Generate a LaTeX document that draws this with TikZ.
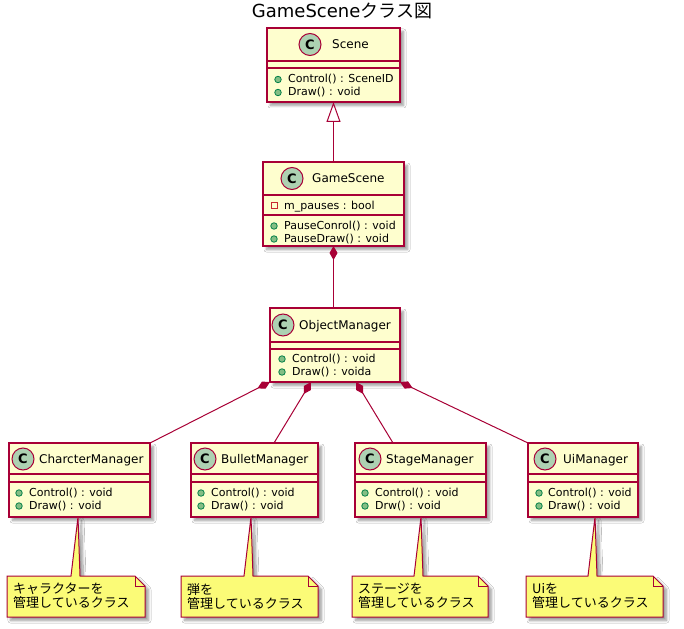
\documentclass[tikz,border=0pt]{standalone}
\usepackage{fontspec}
\setmainfont{DejaVu Sans}
\newfontfamily\cjk{Noto Sans CJK JP}
\usetikzlibrary{arrows.meta,shadows.blur,calc}

\definecolor{umlred}{HTML}{A80036}
\definecolor{classfill}{HTML}{FEFECE}
\definecolor{notefill}{HTML}{FBFB77}
\definecolor{circlefill}{HTML}{ADD1B2}
\definecolor{pubfill}{HTML}{84BE84}
\definecolor{pubborder}{HTML}{038048}
\definecolor{privborder}{HTML}{C82930}

% horizontal compartment rule inside a class box, #2 below its top edge
\newcommand\umlrule[2]{\draw[sepline] ($(#1.north west)+(0,#2)$) -- ($(#1.north east)+(0,#2)$);}

\tikzset{
  umlshadow/.style={blur shadow={shadow xshift=3.5pt, shadow yshift=-3.5pt, shadow blur radius=2.5pt, shadow blur steps=10, shadow opacity=40}},
  classbox/.style={rectangle, draw=umlred, line width=1.4pt, fill=classfill, inner sep=0pt, outer sep=0pt, anchor=north west, umlshadow},
  sepline/.style={draw=umlred, line width=1.4pt},
  stereo/.style={circle, draw=umlred, line width=1pt, fill=circlefill, minimum size=22pt, inner sep=0pt, font=\fontsize{13}{13}\selectfont\bfseries},
  classname/.style={anchor=base west, inner sep=0pt, font=\fontsize{12}{14}\selectfont},
  member/.style={anchor=base west, inner sep=0pt, font=\fontsize{11}{13}\selectfont},
  pubdot/.style={circle, draw=pubborder, fill=pubfill, line width=0.8pt, minimum size=6.5pt, inner sep=0pt},
  privbox/.style={rectangle, draw=privborder, line width=1pt, minimum size=6pt, inner sep=0pt},
  notebox/.style={draw=umlred, line width=1pt, fill=notefill, line join=miter, umlshadow},
  notefold/.style={draw=umlred, line width=1pt},
  notetext/.style={anchor=north west, inner sep=0pt, align=left, font=\cjk\fontsize{13}{14}\selectfont},
  link/.style={draw=umlred, line width=1pt},
  composition/.style={link, {Diamond[length=14pt,width=8pt,fill=umlred]}-},
  extends/.style={link, {Triangle[open,length=20pt,width=14pt]}-},
}

\begin{document}
\begin{tikzpicture}[x=1pt,y=-1pt]
\useasboundingbox[fill=white] (0,0) rectangle (684,628);

% title
\node[anchor=base, inner sep=0pt, font=\fontsize{18}{20}\selectfont] (title) at (342,17.5) {GameScene{\cjk クラス図}};

% ---------- class boxes ----------
\node[classbox, minimum width=133pt, minimum height=74pt] (sc)  at (267,28) {};
\node[classbox, minimum width=141pt, minimum height=84pt] (gs)  at (263,162) {};
\node[classbox, minimum width=130pt, minimum height=74pt] (om)  at (270,308) {};
\node[classbox, minimum width=141pt, minimum height=74pt] (cm)  at (9,443) {};
\node[classbox, minimum width=127pt, minimum height=74pt] (bm)  at (191,443) {};
\node[classbox, minimum width=131pt, minimum height=74pt] (stm) at (355,443) {};
\node[classbox, minimum width=110pt, minimum height=74pt] (um)  at (528,443) {};

% compartments
\umlrule{sc}{33}  \umlrule{sc}{40}
\umlrule{gs}{33}  \umlrule{gs}{53}
\umlrule{om}{34}  \umlrule{om}{41}
\umlrule{cm}{31}  \umlrule{cm}{39}
\umlrule{bm}{31}  \umlrule{bm}{39}
\umlrule{stm}{31} \umlrule{stm}{39}
\umlrule{um}{31}  \umlrule{um}{39}

% Scene
\node[stereo] (sc-c) at (310,44.5) {C};
\node[classname] (sc-n) at (332,49) {Scene};
\node[pubdot] (sc-d1) at (278,79.5) {};
\node[member] (sc-m1) at (288,83) {Control() : SceneID};
\node[pubdot] (sc-d2) at (278,92.5) {};
\node[member] (sc-m2) at (288,96) {Draw() : void};

% GameScene
\node[stereo] (gs-c) at (292,178.5) {C};
\node[classname] (gs-n) at (312,183) {GameScene};
\node[privbox] (gs-p1) at (274,205.5) {};
\node[member] (gs-a1) at (284,209) {m\_pauses : bool};
\node[pubdot] (gs-d1) at (274,226) {};
\node[member] (gs-m1) at (284,229.5) {PauseConrol() : void};
\node[pubdot] (gs-d2) at (274,239) {};
\node[member] (gs-m2) at (284,242.5) {PauseDraw() : void};

% ObjectManager
\node[stereo] (om-c) at (283,325) {C};
\node[classname] (om-n) at (299,329.5) {ObjectManager};
\node[pubdot] (om-d1) at (282,359) {};
\node[member] (om-m1) at (292,362.5) {Control() : void};
\node[pubdot] (om-d2) at (282,372) {};
\node[member] (om-m2) at (292,375.5) {Draw() : voida};

% CharcterManager
\node[stereo] (cm-c) at (23,459) {C};
\node[classname] (cm-n) at (39,463.5) {CharcterManager};
\node[pubdot] (cm-d1) at (19,493) {};
\node[member] (cm-m1) at (29,496.5) {Control() : void};
\node[pubdot] (cm-d2) at (19,506) {};
\node[member] (cm-m2) at (29,509.5) {Draw() : void};

% BulletManager
\node[stereo] (bm-c) at (205,459) {C};
\node[classname] (bm-n) at (221,463.5) {BulletManager};
\node[pubdot] (bm-d1) at (201,493) {};
\node[member] (bm-m1) at (211,496.5) {Control() : void};
\node[pubdot] (bm-d2) at (201,506) {};
\node[member] (bm-m2) at (211,509.5) {Draw() : void};

% StageManager
\node[stereo] (stm-c) at (370,459) {C};
\node[classname] (stm-n) at (386,463.5) {StageManager};
\node[pubdot] (stm-d1) at (365,493) {};
\node[member] (stm-m1) at (375,496.5) {Control() : void};
\node[pubdot] (stm-d2) at (365,506) {};
\node[member] (stm-m2) at (375,509.5) {Drw() : void};

% UiManager
\node[stereo] (um-c) at (545,459) {C};
\node[classname] (um-n) at (563,463.5) {UiManager};
\node[pubdot] (um-d1) at (539,493) {};
\node[member] (um-m1) at (548,496.5) {Control() : void};
\node[pubdot] (um-d2) at (539,506) {};
\node[member] (um-m2) at (548,509.5) {Draw() : void};

% ---------- notes (callout tail reaches up to the class) ----------
\draw[notebox] (7,576) -- (71,576) -- (78,0 |- cm.south) -- (80,576) -- (135,576) -- (145,586) -- (145,617) -- (7,617) -- cycle;
\draw[notefold] (135,576) -- (135,586) -- (145,586);
\node[notetext] (n-cm) at (13,583) {キャラクターを\\管理しているクラス};

\draw[notebox] (181,576) -- (244,576) -- (251,0 |- bm.south) -- (253,576) -- (308,576) -- (318,586) -- (318,617) -- (181,617) -- cycle;
\draw[notefold] (308,576) -- (308,586) -- (318,586);
\node[notetext] (n-bm) at (187,583) {弾を\\管理しているクラス};

\draw[notebox] (352,576) -- (414,576) -- (421,0 |- stm.south) -- (423,576) -- (478,576) -- (488,586) -- (488,617) -- (352,617) -- cycle;
\draw[notefold] (478,576) -- (478,586) -- (488,586);
\node[notetext] (n-stm) at (358,583) {ステージを\\管理しているクラス};

\draw[notebox] (526,576) -- (588,576) -- (595,0 |- um.south) -- (597,576) -- (653,576) -- (663,586) -- (663,617) -- (526,617) -- cycle;
\draw[notefold] (653,576) -- (653,586) -- (663,586);
\node[notetext] (n-um) at (532,583) {Uiを\\管理しているクラス};

% ---------- relations ----------
\draw[extends] (sc.south) -- (sc.south |- gs.north);
\draw[composition] (gs.south) -- (gs.south |- om.north);

\coordinate (om-b) at (311,382);
\coordinate (om-c2) at (356,382);
\draw[composition] (om.south west) -- (cm.north east);
\draw[composition] (om-b) -- (274,0 |- bm.north);
\draw[composition] (om-c2) -- (393,0 |- stm.north);
\draw[composition] (om.south east) -- (um.north west);

\end{tikzpicture}
\end{document}
